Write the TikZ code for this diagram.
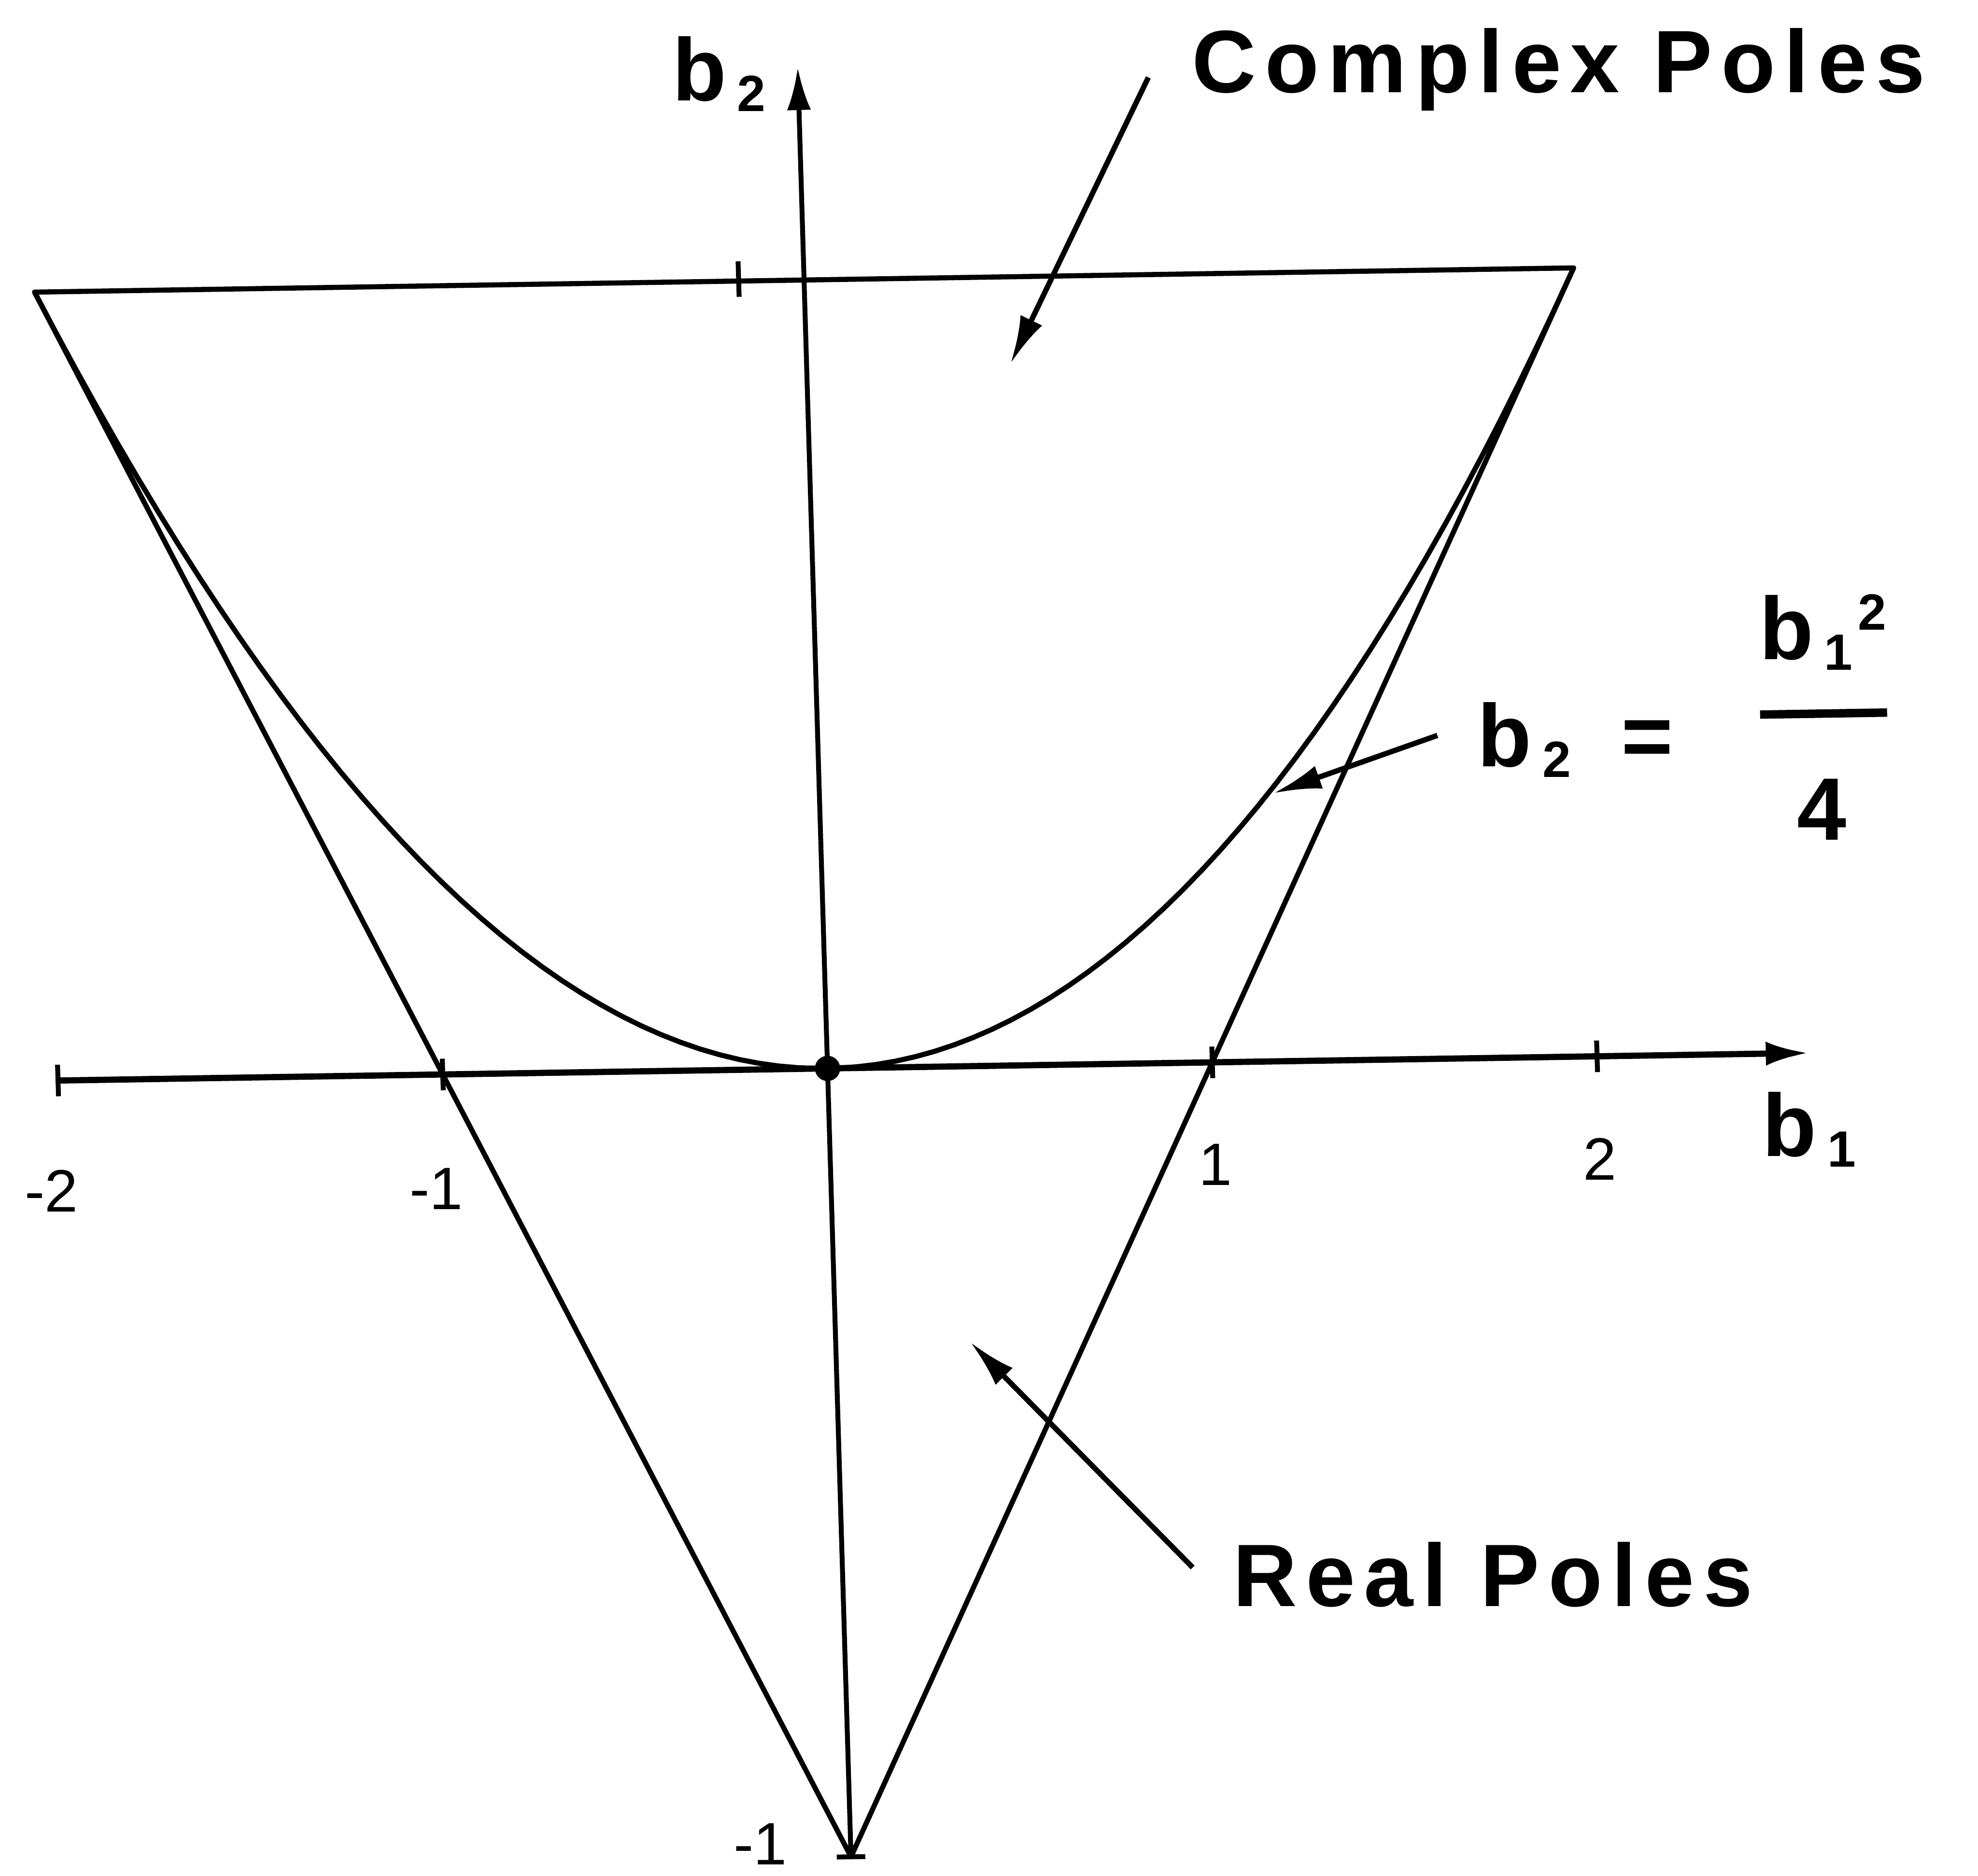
\documentclass[tikz,border=0pt]{standalone}
\usepackage{fontspec}
\setmainfont{Liberation Sans}
\newfontfamily\lblfont[LetterSpace=10]{Liberation Sans}
\usetikzlibrary{arrows.meta, positioning, calc}
\newcommand{\lowidx}[1]{\hspace{0.12em}\raisebox{-0.12em}{\fontsize{11.5}{13}\selectfont #1}}
\newcommand{\highidx}[1]{\hspace{0.06em}\raisebox{0.33em}{\fontsize{11.5}{13}\selectfont #1}}

\begin{document}
\begin{tikzpicture}[
        x={(3.05cm,0.048cm)}, y={(-0.186cm,6.25cm)},
        axis/.style={line width=1.4pt, -{Latex[length=0.34cm,width=0.19cm]}},
        region/.style={line width=1.15pt, line join=round},
        tickmark/.style={line width=1.1pt},
        pointer/.style={line width=1.2pt, -{Latex[length=0.38cm,width=0.19cm]}},
        lbl/.style={font={\lblfont\bfseries\fontsize{20}{24}\selectfont}, inner sep=0pt},
        ticklbl/.style={font={\fontsize{13.5}{15}\selectfont}, inner sep=0pt},
        dot/.style={circle, fill=black, inner sep=0pt, minimum size=0.2cm}
    ]
    \useasboundingbox (-6.56cm,-6.40cm) rectangle (9.12cm,8.47cm);

    % --- CORNERS ---
    \coordinate (o) at (0,0);
    \coordinate (tl) at (-2,1);
    \coordinate (tr) at (2,1);
    \coordinate (bot) at (0,-1);

    % --- AXES ---
    \coordinate (b1start) at (-2,0);
    \coordinate (b1end) at (2.55,0);
    \coordinate (b2end) at (0,1.27);
    \draw[axis] (b1start) -- (b1end);
    \draw[axis, line width=1.1pt] (bot) -- (b2end);

    \foreach \t in {-2,-1,1,2}
        \draw[tickmark] (\t,-0.02) -- (\t,0.02);
    \draw[tickmark] (-0.17,0.98) -- (-0.17,1.025);
    \draw[tickmark] (-0.037,-1) -- (0.037,-1);

    % --- REGION ---
    \draw[region] (tl) -- (tr) -- (bot) -- cycle;
    \draw[region] plot[domain=-2:2, samples=80] (\x,{\x*\x/4});
    \node[dot] (origin) at (o) {};

    % --- TICK LABELS ---
    \node[ticklbl] (lm2) at (-2,-0.14) {\llap{-}2};
    \node[ticklbl] (lm1) at (-1,-0.145) {\llap{-}1};
    \node[ticklbl] (lp1) at (1,-0.13) {1};
    \node[ticklbl] (lp2) at (2,-0.13) {2};
    \node[ticklbl, left=0.5cm of bot, yshift=0.1cm] (lbot) {-1};

    % --- LABELS ---
    \node[lbl, anchor=base west] (b2lbl) at (-0.33,1.23) {b\lowidx{2}};
    \node[lbl, anchor=base west] (b1lbl) at (2.42,-0.13) {b\lowidx{1}};
    \node[lbl, anchor=base west] (cplx) at (1.02,1.23) {Complex Poles};
    \node[lbl, anchor=base west] (real) at (1.01,-0.69) {Real Poles};
    \node[lbl, anchor=base west] (eqlhs) at (1.71,0.37) {b\lowidx{2}\hspace{0.4cm}=};
    \node[lbl, anchor=base west] (eqnum) at (2.45,0.50) {b\lowidx{1}\highidx{2}};
    \node[lbl, anchor=base] (eqden) at (2.60,0.27) {4};
    \coordinate (barl) at (2.45,0.43);
    \coordinate (barr) at (2.78,0.43);
    \draw[line width=1.9pt] (barl) -- (barr);

    % --- POINTERS ---
    \coordinate (cplxfrom) at (0.91,1.25);
    \coordinate (cplxto) at (0.53,0.89);
    \coordinate (eqfrom) at (1.61,0.41);
    \coordinate (eqto) at (1.18,0.34);
    \coordinate (realfrom) at (0.91,-0.64);
    \coordinate (realto) at (0.35,-0.35);
    \draw[pointer] (cplxfrom) -- (cplxto);
    \draw[pointer] (eqfrom) -- (eqto);
    \draw[pointer] (realfrom) -- (realto);

\end{tikzpicture}
\end{document}
